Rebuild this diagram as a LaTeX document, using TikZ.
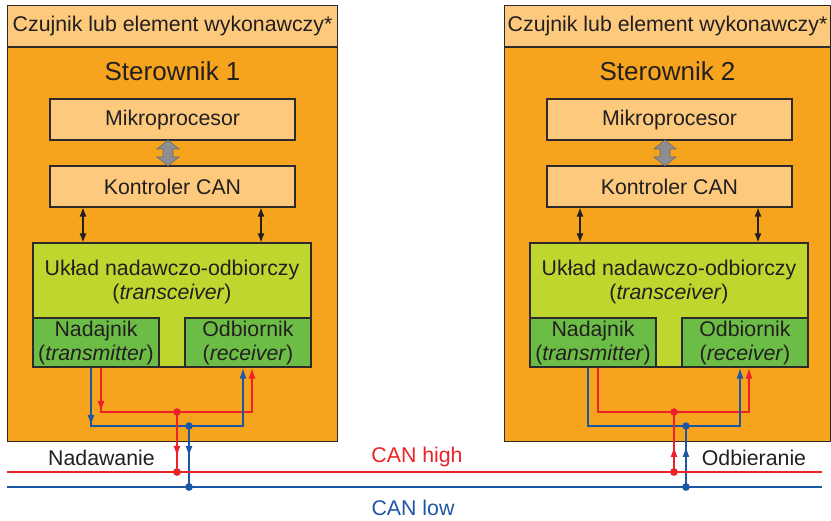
\documentclass[tikz,border=0pt]{standalone}
\usepackage{fontspec}
\setmainfont{Liberation Sans}
\usetikzlibrary{arrows.meta,calc}

\definecolor{ink}{HTML}{231F20}
\definecolor{edge}{HTML}{2E2A2B}
\definecolor{unitfill}{HTML}{F6A41E}
\definecolor{palefill}{HTML}{FDCA7D}
\definecolor{limefill}{HTML}{BFD62F}
\definecolor{greenfill}{HTML}{6CBD45}
\definecolor{arrowgray}{HTML}{8E8E90}
\definecolor{arrowedge}{HTML}{6A6A6C}
\definecolor{wirered}{HTML}{EC2228}
\definecolor{wireblue}{HTML}{1E56A6}

\tikzset{
  txt/.style={text=ink, font=\fontsize{21.3}{24}\selectfont, inner sep=0pt, align=center},
  boxbase/.style={draw=edge, line width=1.1pt, inner sep=0pt, txt},
  hdrbox/.style={boxbase, fill=palefill},
  unitbox/.style={boxbase, fill=unitfill},
  palebox/.style={boxbase, fill=palefill, minimum width=245, minimum height=41},
  trxbox/.style={boxbase, fill=limefill},
  subbox/.style={boxbase, fill=greenfill, minimum width=126, minimum height=49},
  titletxt/.style={txt, font=\fontsize{26}{30}\selectfont},
  ctlarrow/.style={draw=ink, line width=1.1pt, {Latex[length=9pt,width=7pt]}-{Latex[length=9pt,width=7pt]}},
  redwire/.style={draw=wirered, line width=1.8pt},
  bluewire/.style={draw=wireblue, line width=1.8pt},
  tip/.style={-{Latex[length=11pt,width=7pt]}},
  joint/.style={circle, inner sep=0pt, minimum size=7.5pt},
}

% One controller unit: #1 name prefix, #2 title, #3 outer width
\newcommand\ctrlbody[3]{%
  \node[hdrbox, minimum width=#3, minimum height=41, anchor=north west] (#1hdr) at (7,5)
       {Czujnik lub element wykonawczy*};
  \node[unitbox, minimum width=#3, minimum height=394, anchor=north west] (#1unit)
       at (#1hdr.south west) {};
  \node[titletxt] (#1title) at ($(#1unit.north)+(0,24)$) {#2};
  \node[palebox] (#1mp) at (172.5,119.5) {Mikroprocesor};
  \node[palebox] (#1kc) at (172.5,186.5) {Kontroler CAN};
  \node[trxbox, minimum width=278, minimum height=124] (#1trx) at (172,305) {};
  \node[txt] (#1trxtext) at (172,281.5) {Układ nadawczo-odbiorczy\\(\textit{transceiver})};
  \node[subbox] (#1nad) at (96,342.5) {Nadajnik\\(\textit{transmitter})};
  \node[subbox] (#1odb) at (248,342.5) {Odbiornik\\(\textit{receiver})};
  % wide grey double arrow between processor and CAN controller
  \coordinate (#1ga) at (168,153);
  \draw[fill=arrowgray, draw=arrowedge, line width=0.6pt]
    ($(#1ga)+(0,-13)$) -- ($(#1ga)+(11,-4)$) -- ($(#1ga)+(5,-4)$) -- ($(#1ga)+(5,4)$)
    -- ($(#1ga)+(11,4)$) -- ($(#1ga)+(0,13)$) -- ($(#1ga)+(-11,4)$) -- ($(#1ga)+(-5,4)$)
    -- ($(#1ga)+(-5,-4)$) -- ($(#1ga)+(-11,-4)$) -- cycle;
  % controller <-> transceiver links
  \coordinate (#1la) at (83,0);
  \coordinate (#1lb) at (261,0);
  \draw[ctlarrow] (#1kc.south -| #1la) -- (#1trx.north -| #1la);
  \draw[ctlarrow] (#1kc.south -| #1lb) -- (#1trx.north -| #1lb);
  % internal wiring of the bus lines
  \coordinate (#1txr) at (101,412);
  \coordinate (#1rxr) at (252,412);
  \coordinate (#1txb) at (91,426);
  \coordinate (#1rxb) at (243,426);
  \coordinate (#1jr) at (177,412);
  \coordinate (#1jb) at (189,426);
  \draw[redwire, tip] (#1nad.south -| #1txr) -- (#1txr) -- (#1rxr) -- (#1odb.south -| #1rxr);
  \draw[bluewire, tip] (#1nad.south -| #1txb) -- (#1txb) -- (#1rxb) -- (#1odb.south -| #1rxb);
  \draw[redwire] (#1jr) -- (#1jr |- hiW);
  \draw[bluewire] (#1jb) -- (#1jb |- loW);
  \node[joint, fill=wirered] (#1dr) at (#1jr) {};
  \node[joint, fill=wireblue] (#1db) at (#1jb) {};
  \node[joint, fill=wirered] (#1br) at (#1jr |- hiW) {};
  \node[joint, fill=wireblue] (#1bb) at (#1jb |- loW) {};
}

\begin{document}
\begin{tikzpicture}[x=1pt,y=-1pt]
\useasboundingbox (0,0) rectangle (831,521);

% bus lines
\coordinate (hiW) at (7,472);
\coordinate (hiE) at (822,472);
\coordinate (loW) at (7,487);
\coordinate (loE) at (822,487);
\coordinate (dnTip) at (0,457);
\coordinate (upTip) at (0,446);
\coordinate (upBase) at (0,459);

\begin{scope}
  \ctrlbody{a}{Sterownik 1}{330}
\end{scope}
\begin{scope}[shift={(497,0)}]
  \ctrlbody{b}{Sterownik 2}{326}
\end{scope}

\draw[redwire, line width=1.4pt] (hiW) -- (hiE);
\draw[bluewire, line width=1.4pt] (loW) -- (loE);
\node[joint, fill=wirered] at (ajr |- hiW) {};
\node[joint, fill=wireblue] at (ajb |- loW) {};
\node[joint, fill=wirered] at (bjr |- hiW) {};
\node[joint, fill=wireblue] at (bjb |- loW) {};

% transmitting side: arrows towards the bus
\draw[redwire, tip] (anad.south -| atxr) -- (atxr);
\draw[bluewire, tip] (anad.south -| atxb) -- (atxb);
\draw[redwire, tip] (ajr) -- (ajr |- dnTip);
\draw[bluewire, tip] (ajb) -- (ajb |- dnTip);
% receiving side: arrows from the bus
\draw[redwire, tip] (bjr |- upBase) -- (bjr |- upTip);
\draw[bluewire, tip] (bjb |- upBase) -- (bjb |- upTip);

\node[txt] (send) at (101.5,458) {Nadawanie};
\node[txt] (recv) at (754,458) {Odbieranie};
\node[txt, text=wirered] (canhi) at (417,457) {CAN high};
\node[txt, text=wireblue] (canlo) at (413,508) {CAN low};
\end{tikzpicture}
\end{document}
